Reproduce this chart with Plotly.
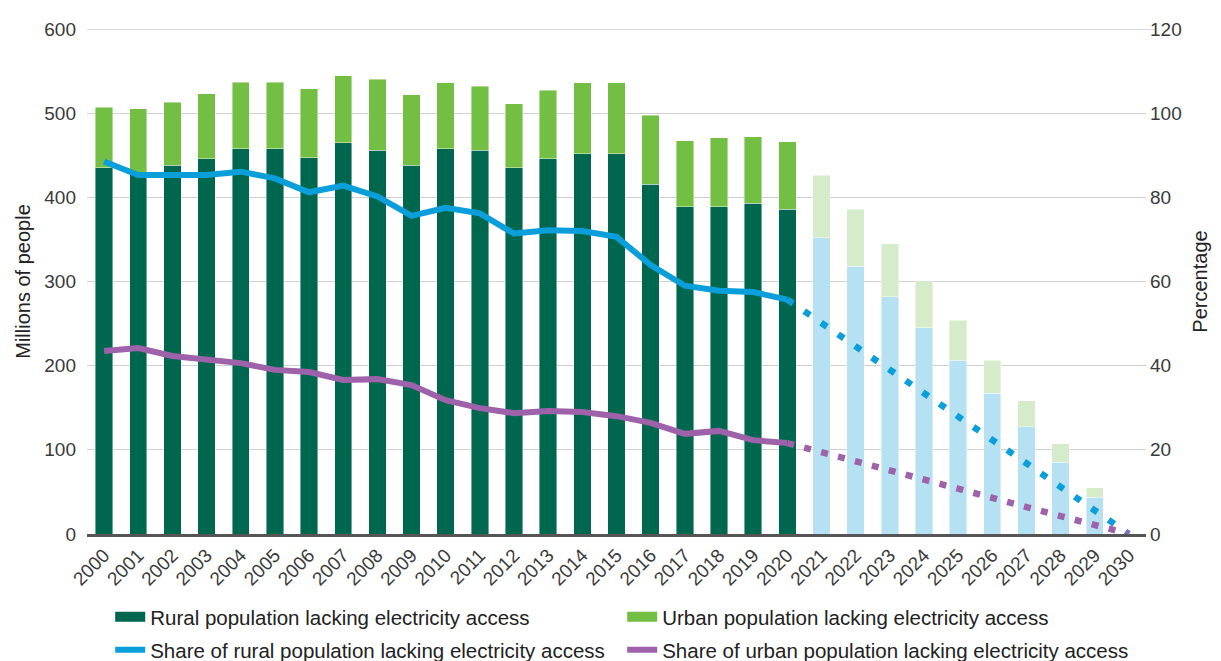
import plotly.graph_objects as go

years = list(range(2000, 2031))

# Millions of people lacking electricity access
rural = [435, 430, 438, 446, 458, 458, 447, 465, 456, 438, 458, 456, 435, 446, 452, 452,
         415.5, 389, 389, 393, 386,
         352, 318, 281.6, 245, 206.7, 167, 127.5, 85.5, 43.6, 0]
urban = [72, 75, 75, 77, 79, 78.5, 82, 79.5, 84.5, 84, 78, 76, 76, 81.5, 84, 84,
         82, 78, 82, 79, 80,
         74, 68, 63, 55.6, 47.3, 39.7, 31, 21.5, 11.4, 0]

# Share of population lacking access (%)
share_rural = [88.5, 85.3, 85.3, 85.3, 86.1, 84.5, 81.2, 82.8, 80.2, 75.6, 77.5, 76.2,
               71.4, 72.2, 72.0, 70.6, 63.9, 59.0, 57.8, 57.5, 55.7,
               50.2, 44.7, 39.1, 33.6, 27.9, 22.3, 16.8, 11.2, 5.7, 0]
share_urban = [43.5, 44.2, 42.3, 41.3, 40.6, 39.0, 38.5, 36.6, 36.8, 35.4, 31.8, 29.9,
               28.7, 29.2, 29.0, 28.0, 26.4, 23.8, 24.5, 22.3, 21.6,
               19.5, 17.2, 15.0, 13.0, 10.7, 8.6, 6.4, 4.3, 2.1, 0]

last_hist = 2020

y_ticks = [0, 100, 200, 300, 400, 500, 600]
y2_ticks = [0, 20, 40, 60, 80, 100, 120]

names = ["Rural population lacking electricity access",
         "Urban population lacking electricity access",
         "Share of rural population lacking electricity access",
         "Share of urban population lacking electricity access"]

C_RURAL, C_RURAL_F = "#00674F", "#B5E1F3"
C_URBAN, C_URBAN_F = "#72BF44", "#D5EBC9"
C_BLUE, C_PURPLE = "#0A9FDB", "#9E62AB"
C_GRID = "#cfcfcf"

rural_cols = [C_RURAL if y <= last_hist else C_RURAL_F for y in years]
urban_cols = [C_URBAN if y <= last_hist else C_URBAN_F for y in years]

hist_idx = [i for i, y in enumerate(years) if y <= last_hist]
fc_idx = [i for i, y in enumerate(years) if y >= last_hist]

fig = go.Figure()
fig.add_trace(go.Bar(x=years, y=rural, marker=dict(color=rural_cols, line=dict(color="rgba(255,255,255,0.55)", width=0.8)),
                     showlegend=False, name=names[0]))
fig.add_trace(go.Bar(x=years, y=urban, marker=dict(color=urban_cols, line=dict(color="rgba(255,255,255,0.55)", width=0.8)),
                     showlegend=False, name=names[1]))

fig.add_trace(go.Scatter(x=[years[i] for i in hist_idx], y=[share_rural[i] for i in hist_idx],
                         mode="lines", line=dict(color=C_BLUE, width=6), yaxis="y2", showlegend=False))
fig.add_trace(go.Scatter(x=[years[i] for i in fc_idx], y=[share_rural[i] for i in fc_idx],
                         mode="lines", line=dict(color=C_BLUE, width=6.5, dash="7px,13.5px"), yaxis="y2", showlegend=False))
fig.add_trace(go.Scatter(x=[years[i] for i in hist_idx], y=[share_urban[i] for i in hist_idx],
                         mode="lines", line=dict(color=C_PURPLE, width=6), yaxis="y2", showlegend=False))
fig.add_trace(go.Scatter(x=[years[i] for i in fc_idx], y=[share_urban[i] for i in fc_idx],
                         mode="lines", line=dict(color=C_PURPLE, width=6.5, dash="7px,10.5px"), yaxis="y2", showlegend=False))

# legend entries (row 1 -> legend, row 2 -> legend2)
for nm, col, w, lg in [(names[0], C_RURAL, 12, "legend"), (names[1], C_URBAN, 12, "legend"),
                       (names[2], C_BLUE, 6, "legend2"), (names[3], C_PURPLE, 6, "legend2")]:
    fig.add_trace(go.Scatter(x=[None], y=[None], mode="lines", name=nm, line=dict(color=col, width=w), legend=lg))

# top gridline (plotly drops the grid line lying on the plot edge)
fig.add_shape(type="line", xref="paper", x0=0, x1=1.008, yref="y", y0=y_ticks[-1], y1=y_ticks[-1],
              line=dict(color=C_GRID, width=1.3), layer="below")

FONT = "Liberation Sans, Arial, sans-serif"
legend_common = dict(orientation="h", x=0.0219, xanchor="left", yanchor="top",
                     entrywidth=467, entrywidthmode="pixels", traceorder="normal",
                     font=dict(size=20.5, color="#222222"), itemclick=False, bgcolor="rgba(0,0,0,0)")
fig.update_layout(
    width=1221, height=661,
    margin=dict(l=79, r=83, t=21, b=135, autoexpand=False),
    plot_bgcolor="white", paper_bgcolor="white",
    barmode="stack", bargap=0.49,
    font=dict(family=FONT, size=19, color="#3a3a3a"),
    xaxis=dict(range=[1999.5, 2030.5], tickmode="array", tickvals=years, ticktext=[str(y) for y in years],
               tickangle=-45, showgrid=False, showline=True, linecolor="#555555", linewidth=2.5,
               ticks="", tickfont=dict(size=19, color="#3a3a3a")),
    yaxis=dict(range=[y_ticks[0], y_ticks[-1]], tickmode="array", tickvals=y_ticks, showgrid=True,
               gridcolor=C_GRID, gridwidth=1.3,
               zeroline=False, ticks="", ticklabelstandoff=10,
               title=dict(text="Millions of people", font=dict(size=20, color="#222222"), standoff=8)),
    yaxis2=dict(range=[y2_ticks[0], y2_ticks[-1]], tickmode="array", tickvals=y2_ticks, overlaying="y",
                side="right", showgrid=False,
                zeroline=False, ticks="", ticklabelstandoff=3,
                title=dict(text="Percentage", font=dict(size=20, color="#222222"), standoff=12)),
    legend=dict(y=-0.1247, **legend_common),
    legend2=dict(y=-0.190, **legend_common),
)

fig.write_html("out.html")
